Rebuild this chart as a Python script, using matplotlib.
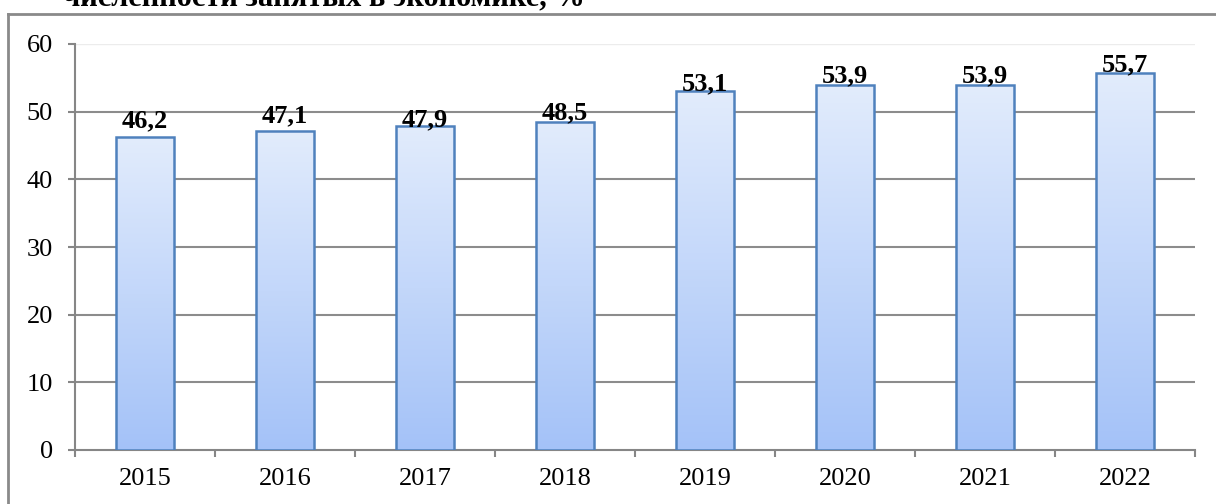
import matplotlib
matplotlib.use("Agg")
import matplotlib.pyplot as plt
import numpy as np
from matplotlib.colors import LinearSegmentedColormap
from matplotlib.lines import Line2D

years = ["2015", "2016", "2017", "2018", "2019", "2020", "2021", "2022"]
values = [46.2, 47.1, 47.9, 48.5, 53.1, 53.9, 53.9, 55.7]
labels = ["46,2", "47,1", "47,9", "48,5", "53,1", "53,9", "53,9", "55,7"]
title_text = "численности занятых в экономике, %"
yticks = [0, 10, 20, 30, 40, 50, 60]

# baseline offsets of value labels above bar tops (points), as seen in the reference
label_dy = [7.5, 6.5, -0.5, 1.5, 0, 2, 2, 1.5]

plt.rcParams['font.family'] = ['Liberation Serif', 'DejaVu Serif']

fig = plt.figure(figsize=(12.16, 5.04), dpi=100)
ax = fig.add_axes([75/1216, 1 - 450/504, 1120/1216, 406/504])

x = np.arange(len(years))
width = 0.41
cmap = LinearSegmentedColormap.from_list("g", ["#a4c2f8", "#e2ecfc"])
grad = np.linspace(0, 1, 256).reshape(-1, 1)

bars = ax.bar(x, values, width=width, facecolor="none", edgecolor="#4f81bd",
              linewidth=1.8, zorder=4)
for b in bars:
    x0, y0 = b.get_x(), b.get_y()
    w, h = b.get_width(), b.get_height()
    ax.bar(x0 + w / 2 + 0.012, h, width=w, bottom=y0 - 0.25, color="#d9d9d9",
           alpha=0.5, zorder=2, linewidth=0)
    im = ax.imshow(grad, extent=[x0, x0 + w, y0, y0 + h], origin="lower",
                   cmap=cmap, aspect="auto", zorder=3)
    im.set_clip_path(b)

for xi, v, lab, dy in zip(x, values, labels, label_dy):
    ax.annotate(lab, (xi, v), xytext=(0, dy), textcoords="offset points",
                ha="center", va="baseline", fontsize=19, fontweight="bold",
                zorder=6)

ax.set_xlim(-0.5, len(years) - 0.5)
ax.set_ylim(0, 60)
ax.set_yticks(yticks)
ax.set_yticklabels([str(t) for t in yticks], fontsize=19)
ax.set_xticks(x)
ax.set_xticklabels(years, fontsize=19)
ax.set_xticks(np.arange(-0.5, len(years)), minor=True)
ax.tick_params(axis="x", which="major", length=0, pad=13)
ax.tick_params(axis="x", which="minor", length=5, width=1.5, color="#868686",
               direction="out")
ax.tick_params(axis="y", length=5, width=1.5, color="#868686", pad=11)

ax.yaxis.grid(True, color="#8c8c8c", linewidth=1.5, zorder=1)
ax.set_axisbelow(True)
gl = ax.get_ygridlines()
gl[-1].set_color("#ececec")
gl[-1].set_linewidth(1.0)
gl[0].set_visible(False)

for s in ["top", "right"]:
    ax.spines[s].set_visible(False)
for s in ["left", "bottom"]:
    ax.spines[s].set_color("#868686")
    ax.spines[s].set_linewidth(1.5)

# chart frame
fig.add_artist(Line2D([8/1216, 8/1216], [0, 1 - 14/504], transform=fig.transFigure,
                      color="#8a8a8a", linewidth=2))
fig.add_artist(Line2D([8/1216, 1], [1 - 14/504, 1 - 14/504], transform=fig.transFigure,
                      color="#8a8a8a", linewidth=2))

# clipped heading above the chart
fig.text(63/1216, 1 - 5/504, title_text, fontsize=22, fontweight="bold",
         ha="left", va="baseline")

fig.savefig("out.png", dpi=100)
